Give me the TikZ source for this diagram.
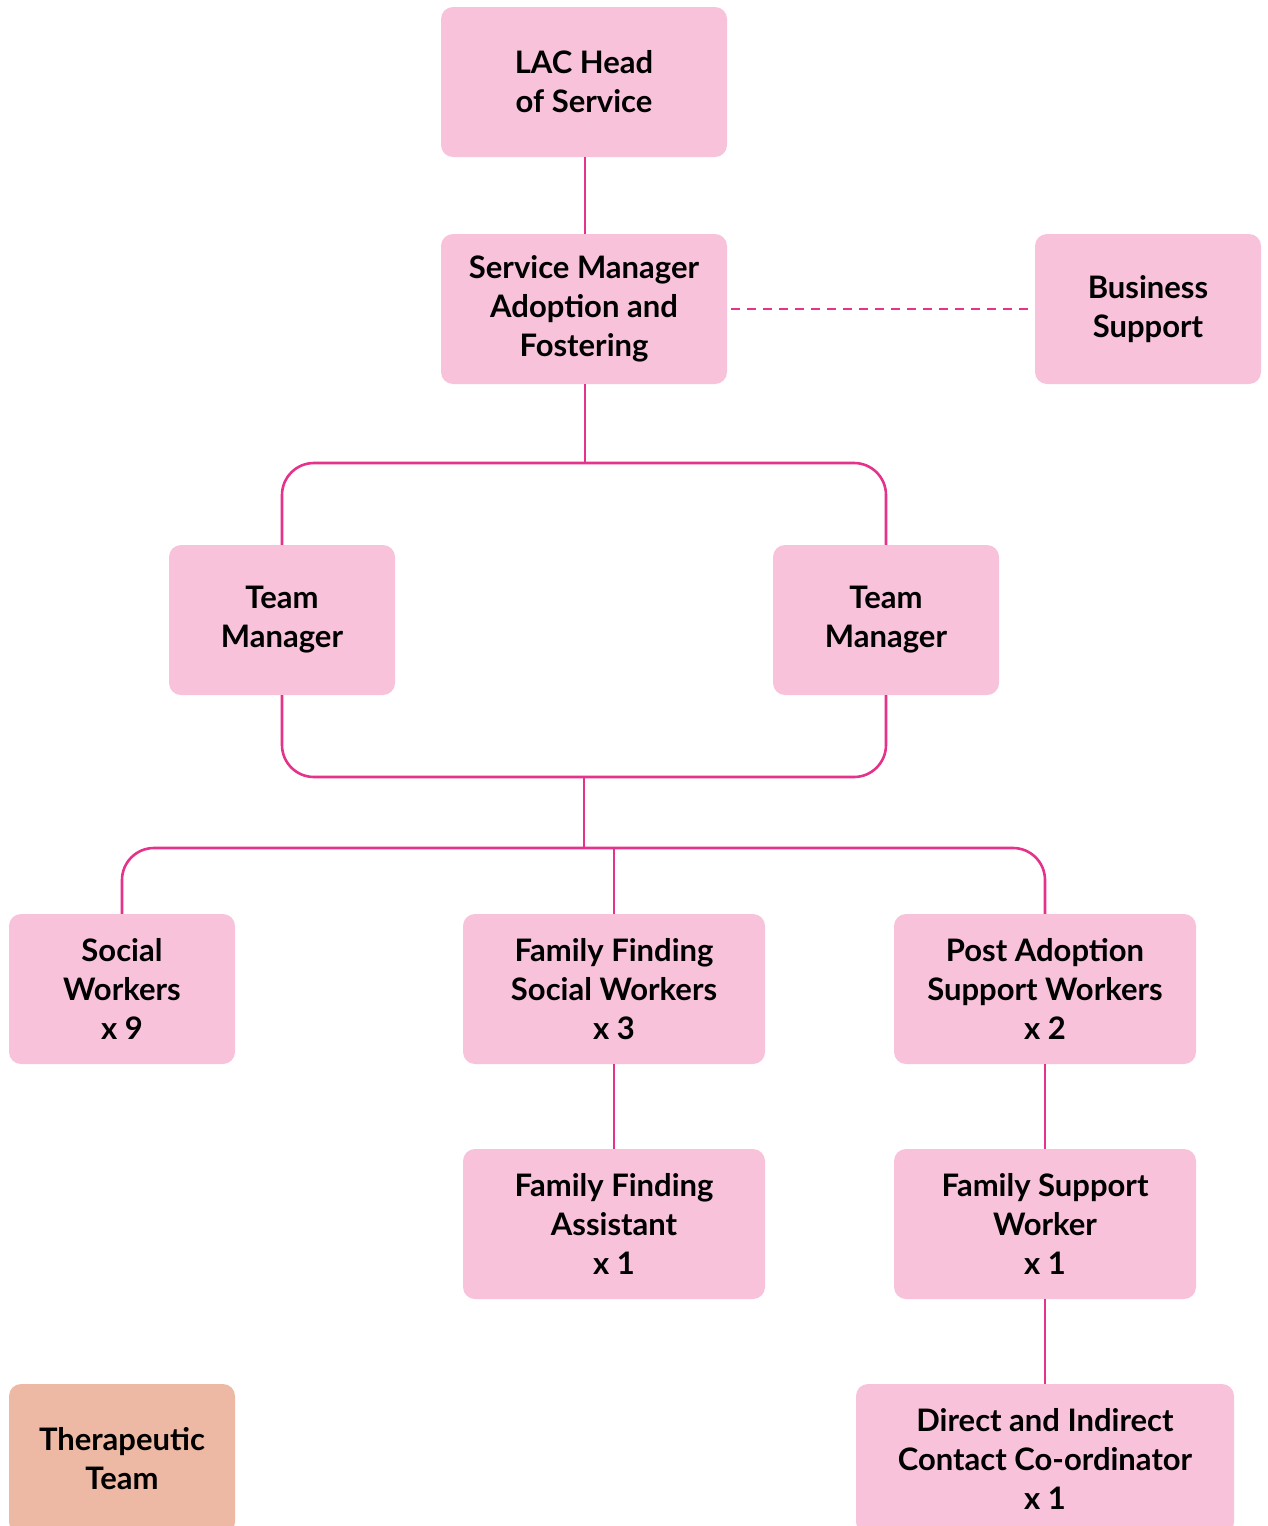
\documentclass[tikz,border=0pt]{standalone}
\usepackage{fontspec}
\setmainfont{Lato}
\definecolor{boxpink}{HTML}{F7C2DA}
\definecolor{boxpeach}{HTML}{EDB9A4}
\definecolor{linepink}{HTML}{E5338B}
\begin{document}
\begin{tikzpicture}[x=1pt,y=-1pt,
  box/.style={rectangle, rounded corners=12pt, fill=boxpink, inner sep=0pt,
    align=center, text=black, font=\fontsize{31}{39}\selectfont\bfseries,
    minimum height=150pt},
  conn/.style={draw=linepink, line width=2.6pt},
  elbow/.style={conn, rounded corners=32pt}]
\useasboundingbox (0,0) rectangle (1267,1526);
\clip (0,0) rectangle (1267,1526);
\node[box, minimum width=286pt] (lac) at (584,82) {LAC Head\\of Service};
\node[box, minimum width=286pt] (sm) at (584,309) {Service Manager\\Adoption and\\Fostering};
\node[box, minimum width=226pt] (bs) at (1148,309) {Business\\Support};
\node[box, minimum width=226pt] (tml) at (282,620) {Team\\Manager};
\node[box, minimum width=226pt] (tmr) at (886,620) {Team\\Manager};
\node[box, minimum width=226pt] (sw) at (122,989) {Social\\Workers\\x 9};
\node[box, minimum width=302pt] (ff) at (614,989) {Family Finding\\Social Workers\\x 3};
\node[box, minimum width=302pt] (pa) at (1045,989) {Post Adoption\\Support Workers\\x 2};
\node[box, minimum width=302pt] (ffa) at (614,1224) {Family Finding\\Assistant\\x 1};
\node[box, minimum width=302pt] (fsw) at (1045,1224) {Family Support\\Worker\\x 1};
\node[box, minimum width=378pt] (dic) at (1045,1459) {Direct and Indirect\\Contact Co-ordinator\\x 1};
\node[box, fill=boxpeach, minimum width=226pt] (tt) at (122,1459) {Therapeutic\\Team};
\coordinate (j1) at (585,463);
\coordinate (j2) at (584,777);
\coordinate (j3) at (584,848);
\draw[conn] (lac.south -| j1) -- (sm.north -| j1);
\draw[conn] (sm.south -| j1) -- (j1);
\draw[elbow] (tml.north) |- (j1) -| (tmr.north);
\draw[elbow] (tml.south) |- (j2) -| (tmr.south);
\draw[conn] (j2) -- (j3);
\draw[elbow] (sw.north) |- (j3) -| (pa.north);
\draw[conn] (ff.north) -- (ff.north |- j3);
\draw[conn] (ff) -- (ffa);
\draw[conn] (pa) -- (fsw);
\draw[conn] (fsw) -- (dic);
\draw[conn, dash pattern=on 9pt off 7pt] ([xshift=4pt]sm.east) -- (bs.west);
\end{tikzpicture}
\end{document}
